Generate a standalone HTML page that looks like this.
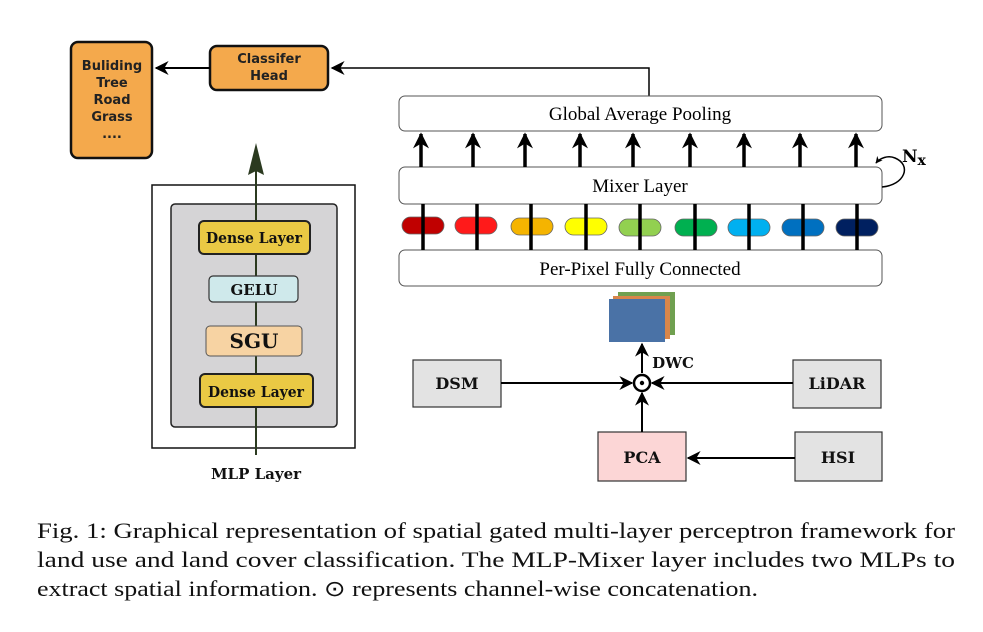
<!DOCTYPE html>
<html><head><meta charset="utf-8"><style>
html,body{margin:0;padding:0;background:#fff;}
svg{display:block;}
.s{font-family:"DejaVu Sans","Liberation Sans",sans-serif;font-weight:bold;}
.b{font-family:"DejaVu Serif","Liberation Serif",serif;font-weight:bold;}
.r{font-family:"Liberation Serif","Times New Roman",serif;}
</style></head><body>
<svg width="983" height="632" viewBox="0 0 983 632" xmlns="http://www.w3.org/2000/svg">
<defs>
<marker id="ah" viewBox="0 0 10 10" refX="9" refY="5" markerWidth="7" markerHeight="7" orient="auto-start-reverse" markerUnits="userSpaceOnUse"><path d="M0,0 L10,5 L0,10 L3,5 z" fill="#000"/></marker>
<marker id="ab" viewBox="0 0 10 10" refX="9" refY="5" markerWidth="16" markerHeight="14" orient="auto" markerUnits="userSpaceOnUse"><path d="M0,0 L10,5 L0,10 L3,5 z" fill="#000"/></marker>
<marker id="au" viewBox="0 0 10 10" refX="9" refY="5" markerWidth="18" markerHeight="16" orient="auto" markerUnits="userSpaceOnUse"><path d="M0,0 L10,5 L0,10 L3,5 z" fill="#000"/></marker>
</defs>
<rect x="71" y="42" width="81" height="116" rx="7" fill="#f4a94c" stroke="#111" stroke-width="2.5"/>
<g class="s" font-size="13" text-anchor="middle" fill="#222">
<text x="112" y="70">Buliding</text><text x="112" y="87">Tree</text><text x="112" y="104">Road</text><text x="112" y="121">Grass</text><text x="112" y="138">....</text>
</g>
<rect x="210" y="46" width="118" height="44" rx="7" fill="#f4a94c" stroke="#111" stroke-width="2.5"/>
<g class="s" font-size="13" text-anchor="middle" fill="#222"><text x="269" y="63">Classifer</text><text x="269" y="80">Head</text></g>
<line x1="210" y1="68" x2="156" y2="68" stroke="#000" stroke-width="2" marker-end="url(#ab)"/>
<polyline points="649,96 649,68 332,68" fill="none" stroke="#000" stroke-width="1.5" marker-end="url(#ab)"/>
<rect x="152" y="185" width="203" height="263" fill="#fff" stroke="#111" stroke-width="1.5"/>
<rect x="171" y="204" width="166" height="223" rx="4" fill="#d5d4d6" stroke="#222" stroke-width="1.5"/>
<line x1="256" y1="455" x2="256" y2="170" stroke="#2b3a20" stroke-width="2"/>
<path d="M256,143 L248,175 L256,171 L264,175 z" fill="#2b3a20"/>
<rect x="199" y="221" width="111" height="33" rx="5" fill="#eac944" stroke="#222" stroke-width="2"/>
<rect x="209" y="276" width="89" height="26" rx="4" fill="#cfe9eb" stroke="#333" stroke-width="1.2"/>
<rect x="206" y="326" width="96" height="30" rx="4" fill="#f7d3a3" stroke="#555" stroke-width="1"/>
<rect x="200" y="374" width="113" height="33" rx="5" fill="#eac944" stroke="#222" stroke-width="2"/>
<g class="b" text-anchor="middle" fill="#111">
<text x="254" y="243" font-size="15" textLength="96" lengthAdjust="spacingAndGlyphs">Dense Layer</text>
<text x="254" y="295" font-size="15">GELU</text>
<text x="254" y="348" font-size="20">SGU</text>
<text x="256" y="397" font-size="15" textLength="96" lengthAdjust="spacingAndGlyphs">Dense Layer</text>
<text x="256" y="479" font-size="15">MLP Layer</text>
</g>
<rect x="399" y="96" width="483" height="35" rx="6" fill="#fff" stroke="#555" stroke-width="1"/>
<text x="640" y="120" class="r" font-size="19" text-anchor="middle">Global Average Pooling</text>
<rect x="399" y="167" width="483" height="37" rx="6" fill="#fff" stroke="#555" stroke-width="1"/>
<text x="640" y="192" class="r" font-size="19" text-anchor="middle">Mixer Layer</text>
<rect x="399" y="250" width="483" height="36" rx="6" fill="#fff" stroke="#555" stroke-width="1"/>
<text x="640" y="275" class="r" font-size="19" text-anchor="middle">Per-Pixel Fully Connected</text>
<g stroke="#000" stroke-width="3.5">
<line x1="421" y1="167" x2="421" y2="134" marker-end="url(#au)"/>
<line x1="473" y1="167" x2="473" y2="134" marker-end="url(#au)"/>
<line x1="525" y1="167" x2="525" y2="134" marker-end="url(#au)"/>
<line x1="580" y1="167" x2="580" y2="134" marker-end="url(#au)"/>
<line x1="633" y1="167" x2="633" y2="134" marker-end="url(#au)"/>
<line x1="690" y1="167" x2="690" y2="134" marker-end="url(#au)"/>
<line x1="744" y1="167" x2="744" y2="134" marker-end="url(#au)"/>
<line x1="800" y1="167" x2="800" y2="134" marker-end="url(#au)"/>
<line x1="856" y1="167" x2="856" y2="134" marker-end="url(#au)"/>
</g>
<g stroke="#666" stroke-width="0.8">
<rect x="402" y="217" width="42" height="17" rx="8.5" fill="#c00000"/>
<rect x="455" y="217" width="42" height="17" rx="8.5" fill="#ff1a1a"/>
<rect x="511" y="218" width="42" height="17" rx="8.5" fill="#f5b400"/>
<rect x="565" y="218" width="42" height="17" rx="8.5" fill="#ffff00"/>
<rect x="619" y="219" width="42" height="17" rx="8.5" fill="#92d050"/>
<rect x="675" y="219" width="42" height="17" rx="8.5" fill="#00b050"/>
<rect x="728" y="219" width="42" height="17" rx="8.5" fill="#00b0f0"/>
<rect x="782" y="219" width="42" height="17" rx="8.5" fill="#0070c0"/>
<rect x="836" y="219" width="42" height="17" rx="8.5" fill="#002060"/>
</g>
<g stroke="#000" stroke-width="3.5">
<line x1="423" y1="204" x2="423" y2="250"/><line x1="477" y1="204" x2="477" y2="250"/>
<line x1="531" y1="204" x2="531" y2="250"/><line x1="586" y1="204" x2="586" y2="250"/>
<line x1="640" y1="204" x2="640" y2="250"/><line x1="695" y1="204" x2="695" y2="250"/>
<line x1="749" y1="204" x2="749" y2="250"/><line x1="803" y1="204" x2="803" y2="250"/>
<line x1="857" y1="204" x2="857" y2="250"/>
</g>
<path d="M882,187 C905,185 912,165 895,158 C888,155 880,158 876,163" fill="none" stroke="#000" stroke-width="1.5" marker-end="url(#ah)"/>
<text x="902" y="162" class="b" font-size="17">N<tspan font-size="14" dy="3">x</tspan></text>
<rect x="618" y="292" width="57" height="43" fill="#70a050"/>
<rect x="613" y="296" width="57" height="43" fill="#d9864a"/>
<rect x="609" y="299" width="56" height="43" fill="#4a72a6"/>
<rect x="413" y="360" width="88" height="47" fill="#e3e3e3" stroke="#333" stroke-width="1.2"/>
<rect x="793" y="360" width="88" height="48" fill="#e3e3e3" stroke="#333" stroke-width="1.2"/>
<rect x="598" y="432" width="88" height="49" fill="#fcd6d6" stroke="#333" stroke-width="1.2"/>
<rect x="795" y="432" width="87" height="49" fill="#e3e3e3" stroke="#333" stroke-width="1.2"/>
<g class="b" font-size="16" text-anchor="middle" fill="#111">
<text x="457" y="389">DSM</text><text x="837" y="389">LiDAR</text><text x="642" y="463">PCA</text><text x="838" y="463">HSI</text>
<text x="673" y="368" font-size="15">DWC</text>
</g>
<g stroke="#000" stroke-width="2" fill="none">
<line x1="501" y1="383" x2="632" y2="383" marker-end="url(#ab)"/>
<line x1="793" y1="383" x2="652" y2="383" marker-end="url(#ab)"/>
<line x1="642" y1="432" x2="642" y2="393" marker-end="url(#ab)"/>
<line x1="642" y1="373" x2="642" y2="344" marker-end="url(#ab)"/>
<line x1="795" y1="458" x2="688" y2="458" marker-end="url(#ab)"/>
<circle cx="642" cy="383" r="8" stroke-width="2.5" fill="#fff"/>
</g>
<circle cx="642" cy="383" r="2.2" fill="#000"/>
<g class="r" font-size="22" fill="#111">
<text x="37" y="538" textLength="918" lengthAdjust="spacingAndGlyphs">Fig. 1: Graphical representation of spatial gated multi-layer perceptron framework for</text>
<text x="37" y="567" textLength="918" lengthAdjust="spacingAndGlyphs">land use and land cover classification. The MLP-Mixer layer includes two MLPs to</text>
<text x="37" y="596" textLength="721" lengthAdjust="spacingAndGlyphs">extract spatial information. ⊙ represents channel-wise concatenation.</text>
</g>
</svg>
</body></html>
